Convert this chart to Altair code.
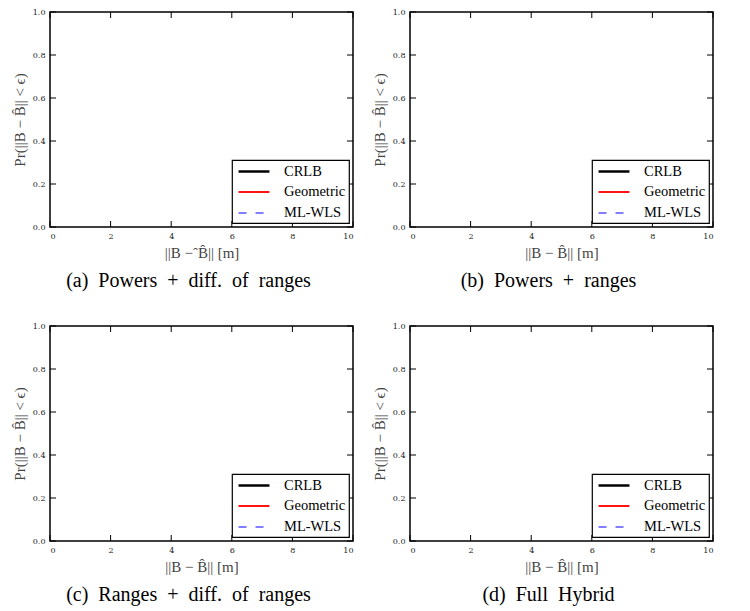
import altair as alt
import pandas as pd

# ---- data ----
series = ["CRLB", "Geometric", "ML-WLS"]
series_colors = ["#000000", "#ff0000", "#0000ff"]
series_widths = [2.5, 1.2, 1.6]
series_dashes = [[50, 0], [50, 0], [8, 9]]

SP = "\u2002"
panel_titles = [
    SP.join(["(a)", "Powers", "+", "diff.", "of", "ranges"]),
    SP.join(["(b)", "Powers", "+", "ranges"]),
    SP.join(["(c)", "Ranges", "+", "diff.", "of", "ranges"]),
    SP.join(["(d)", "Full", "Hybrid"]),
]
x_titles = [
    "||B −ˆB\u0302|| [m]",
    "||B − B\u0302|| [m]",
    "||B − B\u0302|| [m]",
    "||B − B\u0302|| [m]",
]
y_title = "Pr(||B − B\u0302|| < ϵ)"

x_ticks = [0, 2, 4, 6, 8, 10]
y_ticks = [0.0, 0.2, 0.4, 0.6, 0.8, 1.0]
x_domain = [0, 10]
y_domain = [0, 1]

# the curves are not visible in the reference: series present, no points
curve_err = [None, None, None]
curve_prob = [None, None, None]

W, H = 303, 215
TICK = 6
FONT = "Liberation Serif"

curves = pd.DataFrame({"series": series, "err": curve_err, "prob": curve_prob})
xt = pd.DataFrame({"t": x_ticks})
yt = pd.DataFrame({"t": y_ticks})


def panel(i):
    xs = alt.Scale(domain=x_domain, nice=False)
    ys = alt.Scale(domain=y_domain, nice=False)
    lines = alt.Chart(curves).mark_line().encode(
        x=alt.X("err:Q", scale=xs,
                axis=alt.Axis(values=x_ticks, title=x_titles[i], format="d")),
        y=alt.Y("prob:Q", scale=ys,
                axis=alt.Axis(values=y_ticks, title=y_title, format=".1f")),
        color=alt.Color("series:N", scale=alt.Scale(domain=series, range=series_colors),
                        legend=alt.Legend(title=None)),
        strokeDash=alt.StrokeDash("series:N", scale=alt.Scale(domain=series, range=series_dashes),
                                  legend=alt.Legend(title=None)),
        strokeWidth=alt.StrokeWidth("series:N", scale=alt.Scale(domain=series, range=series_widths),
                                    legend=alt.Legend(title=None)),
    )
    xb = alt.Chart(xt).mark_rule(color="black", strokeWidth=1).encode(
        x=alt.X("t:Q", scale=xs), y=alt.value(H), y2=alt.value(H - TICK))
    xtop = alt.Chart(xt).mark_rule(color="black", strokeWidth=1).encode(
        x=alt.X("t:Q", scale=xs), y=alt.value(0), y2=alt.value(TICK))
    yl = alt.Chart(yt).mark_rule(color="black", strokeWidth=1).encode(
        y=alt.Y("t:Q", scale=ys), x=alt.value(0), x2=alt.value(TICK))
    yr = alt.Chart(yt).mark_rule(color="black", strokeWidth=1).encode(
        y=alt.Y("t:Q", scale=ys), x=alt.value(W - TICK), x2=alt.value(W))
    return alt.layer(lines, xb, xtop, yl, yr).properties(
        width=W, height=H,
        title=alt.TitleParams(panel_titles[i], orient="bottom", anchor="middle",
                              dx=-13, offset=11),
    )


p = [panel(i) for i in range(4)]
res = dict(color="independent", strokeDash="independent", strokeWidth="independent")
row1 = alt.hconcat(p[0], p[1], spacing=16).resolve_scale(**res).resolve_legend(**res)
row2 = alt.hconcat(p[2], p[3], spacing=16).resolve_scale(**res).resolve_legend(**res)

chart = (
    alt.vconcat(row1, row2, spacing=29)
    .resolve_scale(**res)
    .resolve_legend(**res)
    .properties(padding={"left": 3, "top": -1, "right": 2, "bottom": 2})
    .configure_view(stroke="black", strokeWidth=1.5)
    .configure_axis(
        grid=False, ticks=False, domain=False,
        labelFont="DejaVu Serif", labelFontSize=8, labelColor="#222222", labelPadding=5,
        titleFont=FONT, titleFontSize=15, titleFontWeight="normal", titleColor="#444444",
        titlePadding=5,
    )
    .configure_legend(
        orient="bottom-right", offset=4, padding=3,
        strokeColor="black", strokeWidth=1.2, fillColor="white", cornerRadius=0,
        labelFont=FONT, labelFontSize=14.5, labelColor="black", labelOffset=32,
        symbolType="M-0.71,0L3.71,0", symbolSize=196, rowPadding=6,
    )
    .configure_title(font=FONT, fontSize=20, fontWeight="normal", color="black")
)

chart.save("out.html", embed_options={"renderer": "svg", "actions": False})
